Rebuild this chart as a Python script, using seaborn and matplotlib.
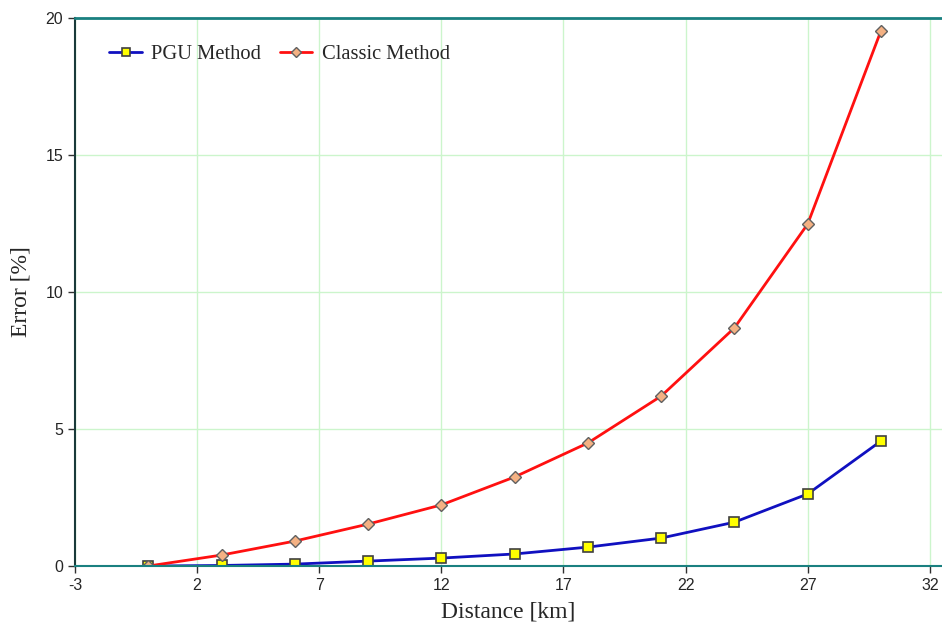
import numpy as np
import pandas as pd
import seaborn as sns
import matplotlib.pyplot as plt

distance = [0, 3, 6, 9, 12, 15, 18, 21, 24, 27, 30]
pgu_error = [0.0, 0.02, 0.07, 0.18, 0.29, 0.44, 0.69, 1.02, 1.60, 2.63, 4.56]
classic_error = [0.0, 0.40, 0.91, 1.53, 2.23, 3.25, 4.49, 6.20, 8.69, 12.48, 19.53]
xticks = [-3, 2, 7, 12, 17, 22, 27, 32]
yticks = [0, 5, 10, 15, 20]

df = pd.DataFrame({"Distance": distance, "PGU": pgu_error, "Classic": classic_error})

sns.set_style("white")
plt.rcParams["axes.unicode_minus"] = False
fig = plt.figure(figsize=(9.42, 6.24), dpi=100)
ax = fig.add_axes([0.0796, 0.0929, 0.9204, 0.8783])

sns.lineplot(data=df, x="Distance", y="PGU", ax=ax, color="#1010c0", lw=2,
             marker="s", markersize=7, markerfacecolor="#ffff00",
             markeredgecolor="#404040", markeredgewidth=1.2, label="PGU Method")
sns.lineplot(data=df, x="Distance", y="Classic", ax=ax, color="#ff1010", lw=2,
             marker="D", markersize=6.5, markerfacecolor="#f4b183",
             markeredgecolor="#606060", markeredgewidth=1.0, label="Classic Method")

ax.set_xlim(-3, 32.5)
ax.set_ylim(0, 20)
ax.set_xticks(xticks)
ax.set_yticks(yticks)
ax.grid(True, color="#ccf5cc", lw=1)
ax.set_axisbelow(True)
ax.axhline(0, color="black", lw=1.2, zorder=1)

ax.spines["top"].set_color("#1a8080")
ax.spines["top"].set_linewidth(2)
ax.spines["right"].set_visible(False)
ax.spines["left"].set_color("#1a3a3a")
ax.spines["left"].set_linewidth(1.5)
ax.spines["bottom"].set_color("#1a8080")
ax.spines["bottom"].set_linewidth(1.5)

ax.tick_params(axis="both", direction="out", length=5, width=1, color="#303030",
               labelsize=11.5, left=True, bottom=True)
for lab in ax.get_xticklabels() + ax.get_yticklabels():
    lab.set_fontfamily("Liberation Sans")

ax.set_xlabel("Distance [km]", fontfamily="Liberation Serif", fontsize=17, labelpad=6)
ax.set_ylabel("Error [%]", fontfamily="Liberation Serif", fontsize=17, labelpad=10)

leg = ax.legend(loc="upper left", bbox_to_anchor=(0.018, 0.985), ncol=2, frameon=False,
                prop={"family": "Liberation Serif", "size": 14.8}, handlelength=1.6,
                handletextpad=0.45, columnspacing=0.9, markerscale=0.75)

fig.savefig("out.png", dpi=100)
